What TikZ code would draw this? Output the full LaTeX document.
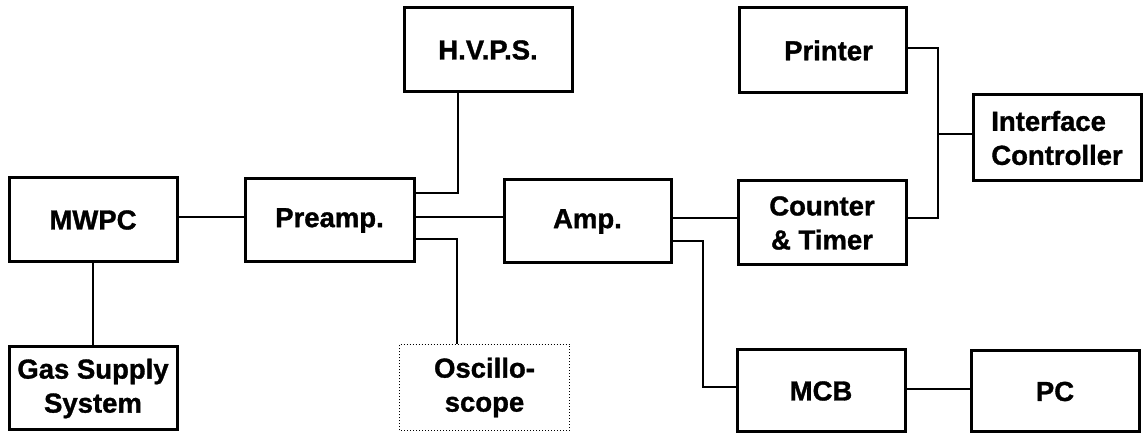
\documentclass[tikz,border=0pt]{standalone}
\usepackage{fontspec}
\setmainfont[BoldFeatures={FakeBold=1.2}]{Liberation Sans}
\begin{document}
\begin{tikzpicture}[x=1pt,y=-1pt,
  blk/.style={draw, line width=3pt, rectangle, inner sep=0pt,
    minimum width=168pt, minimum height=84pt, align=center,
    font=\fontsize{27.5}{34}\selectfont\bfseries},
  conn/.style={line width=2pt}]
\useasboundingbox (0,0) rectangle (1144,435);
\node[blk] (mwpc) at (93,220) {MWPC};
\node[blk, minimum height=83pt] (gas) at (93,388.5) {Gas Supply\\System};
\node[blk, minimum width=169pt, minimum height=83pt] (pre) at (329.5,220.5) {Preamp.};
\node[blk] (hvps) at (488,50) {H.V.P.S.};
\node[blk, minimum width=167pt, minimum height=83pt] (amp) at (587.5,221.5) {Amp.};
\node[blk, draw=none, minimum width=167pt, minimum height=83pt] (osc) at (484.5,387.5) {Oscillo-\\scope};
\draw[line width=1pt, dotted] (osc.south west) rectangle (osc.north east);
\node[blk] (cnt) at (822,223) {Counter\\\& Timer};
\node[blk, minimum width=167pt, minimum height=85pt] (prn) at (822.5,50.5) {\hspace*{12pt}Printer};
\node[blk, minimum height=86pt, align=left] (ifc) at (1057,138) {Interface\\Controller};
\node[blk, minimum height=82pt] (mcb) at (821,391) {MCB};
\node[blk, minimum height=81pt] (pc) at (1055,391.5) {PC};
% connectors
\draw[conn] (mwpc.east |- 0,217) -- (pre.west |- 0,217);
\draw[conn] (mwpc.south) -- (gas.north);
\draw[conn] (pre.east |- 0,193) -| (hvps.south -| 458,0);
\draw[conn] (pre.east |- 0,217) -- (amp.west |- 0,217);
\draw[conn] (pre.east |- 0,239) -| (osc.north -| 457,0);
\draw[conn] (amp.east |- 0,218) -- (cnt.west |- 0,218);
\draw[conn] (amp.east |- 0,241) -| (703,387) -- (mcb.west |- 0,387);
\draw[conn] (mcb.east |- 0,389) -- (pc.west |- 0,389);
\coordinate (j) at (938,134);
\draw[conn] (prn.east |- 0,48) -| (j) |- (cnt.east |- 0,218);
\draw[conn] (j) -- (ifc.west |- j);
\end{tikzpicture}
\end{document}
